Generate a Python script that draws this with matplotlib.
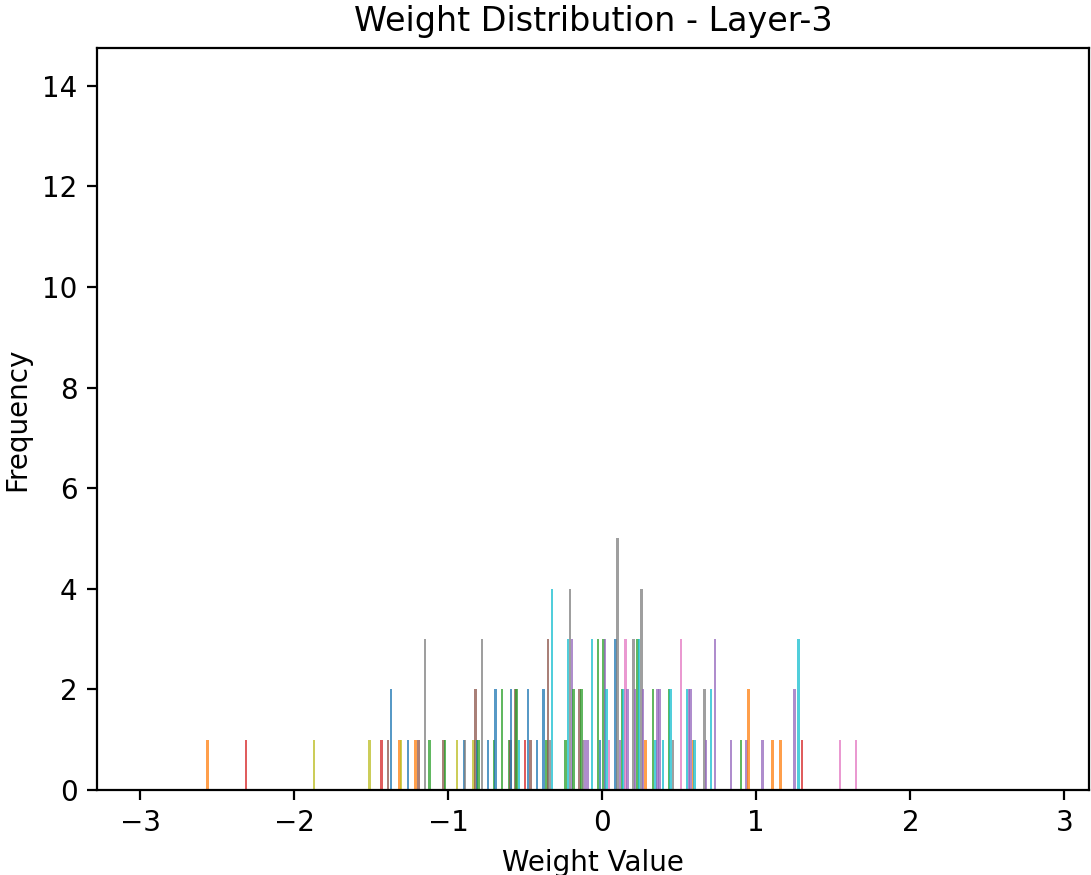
import matplotlib
matplotlib.use('Agg')
import matplotlib.pyplot as plt

# bars: weight value, count, series colour
weight_x = [
    -2.57, -2.32, -1.88, -1.52, -1.44, -1.40, -1.38, -1.325, -1.315, -1.27,
    -1.22, -1.20, -1.16, -1.13, -1.04, -1.03, -0.95,
    -0.907, -0.90, -0.845, -0.83, -0.82, -0.81, -0.79, -0.75, -0.71, -0.70,
    -0.66, -0.615, -0.605, -0.60, -0.57, -0.565, -0.55, -0.51, -0.49, -0.475,
    -0.43, -0.39, -0.37, -0.36, -0.35, -0.335,
    -0.248, -0.23, -0.219, -0.205, -0.194, -0.155, -0.144, -0.134, -0.119,
    -0.103, -0.075, -0.037, -0.022, 0.0, 0.011, 0.021, 0.036, 0.079, 0.09,
    0.107, 0.122, 0.129, 0.144, 0.157, 0.194, 0.204, 0.221, 0.232, 0.247,
    0.258, 0.273, 0.323, 0.337, 0.35, 0.365,
    0.387, 0.426, 0.436, 0.452, 0.505, 0.542, 0.555, 0.565, 0.581, 0.591,
    0.656, 0.667, 0.699, 0.725, 0.828, 0.892, 0.929, 0.942, 1.032, 1.097,
    1.15, 1.239, 1.265, 1.29, 1.537, 1.639,
]
weight_count = [
    1, 1, 1, 1, 1, 1, 2, 1, 1, 1,
    1, 1, 3, 1, 1, 1, 1,
    1, 1, 1, 2, 1, 1, 3, 1, 1, 2,
    2, 1, 1, 2, 2, 2, 1, 1, 2, 1,
    1, 2, 1, 3, 1, 4,
    1, 3, 4, 3, 2, 2, 2, 1, 1,
    1, 3, 3, 1, 3, 3, 2, 1, 3, 5,
    1, 2, 2, 3, 2, 3, 2, 3, 3, 4,
    2, 1, 2, 1, 2, 2,
    1, 2, 2, 1, 3, 2, 2, 2, 1, 1,
    2, 1, 2, 3, 1, 1, 1, 2, 1, 1,
    1, 2, 3, 1, 1, 1,
]
series = [
    'orange', 'red', 'olive', 'olive', 'red', 'brown', 'blue', 'orange', 'olive', 'blue',
    'orange', 'brown', 'gray', 'green', 'brown', 'green', 'olive',
    'blue', 'gray', 'olive', 'brown', 'blue', 'green', 'gray', 'blue', 'green', 'blue',
    'green', 'green', 'brown', 'blue', 'brown', 'green', 'cyan', 'red', 'blue', 'brown',
    'blue', 'blue', 'green', 'brown', 'gray', 'cyan',
    'green', 'cyan', 'gray', 'purple', 'green', 'brown', 'green', 'gray', 'purple',
    'purple', 'cyan', 'green', 'blue', 'green', 'purple', 'cyan', 'pink', 'blue', 'gray',
    'purple', 'green', 'cyan', 'pink', 'purple', 'gray', 'purple', 'green', 'cyan', 'gray',
    'purple', 'orange', 'green', 'cyan', 'purple', 'purple',
    'cyan', 'green', 'cyan', 'gray', 'pink', 'cyan', 'purple', 'purple', 'orange', 'cyan',
    'gray', 'purple', 'cyan', 'purple', 'purple', 'green', 'purple', 'orange', 'purple', 'orange',
    'orange', 'purple', 'cyan', 'red', 'pink', 'pink',
]

palette = {'blue': 'tab:blue', 'orange': 'tab:orange', 'green': 'tab:green',
           'red': 'tab:red', 'purple': 'tab:purple', 'brown': 'tab:brown',
           'pink': 'tab:pink', 'gray': 'tab:gray', 'olive': 'tab:olive',
           'cyan': 'tab:cyan'}

fig = plt.figure(figsize=(1091 / 200, 875 / 200), dpi=200)
ax = fig.add_axes([97 / 1091, 85 / 875, 992 / 1091, 742 / 875])

ax.bar(weight_x, weight_count, width=0.016, align='edge',
       color=[palette[s] for s in series], alpha=0.75)

ax.set_xlim(-3.28, 3.16)
ax.set_ylim(0, 14.75)
ax.set_yticks([0, 2, 4, 6, 8, 10, 12, 14])
ax.set_title('Weight Distribution - Layer-3')
ax.set_xlabel('Weight Value')
ax.set_ylabel('Frequency')

fig.savefig('out.png', dpi=200)
